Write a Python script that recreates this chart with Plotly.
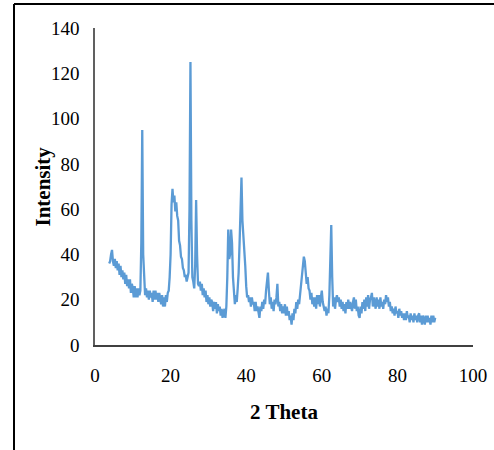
import numpy as np
import plotly.graph_objects as go

# XRD pattern, 2 theta grid starts at 3.75 with 0.25 steps
start_2theta = 3.75
step_2theta = 0.25
intensity = [
    36,                                   # 3.75
    37, 40, 42, 37,                       # 4
    35, 38, 34, 37,                       # 5
    33, 36, 31, 35,                       # 6
    30, 33, 29, 32,                       # 7
    27, 31, 26, 29,                       # 8
    25, 29, 23, 27,                       # 9
    25, 21, 26, 21,                       # 10
    25, 21, 25, 22,                       # 11
    24, 45, 95, 40,                       # 12
    26, 22, 25, 21,                       # 13
    24, 20, 24, 21,                       # 14
    23, 19, 24, 20,                       # 15
    24, 20, 23, 19,                       # 16
    23, 20, 18, 22,                       # 17
    17, 21, 17, 22,                       # 18
    19, 23, 24, 30,                       # 19
    40, 62, 69, 63,                       # 20
    66, 59, 63, 57,                       # 21
    55, 46, 44, 39,                       # 22
    38, 34, 33, 30,                       # 23
    31, 28, 31, 32,                       # 24
    60, 125, 55, 30,                      # 25
    28, 25, 35, 64,                       # 26
    40, 27, 26, 28,                       # 27
    24, 27, 22, 25,                       # 28
    21, 24, 19, 22,                       # 29
    18, 21, 17, 20,                       # 30
    19, 15, 19, 16,                       # 31
    19, 14, 18, 15,                       # 32
    17, 13, 16, 12,                       # 33
    14, 16, 12, 17,                       # 34
    30, 51, 38, 40,                       # 35
    51, 45, 30, 22,                       # 36
    18, 22, 19, 25,                       # 37
    32, 45, 60, 74,                       # 38
    55, 48, 46, 35,                       # 39
    26, 21, 22, 19,                       # 40
    21, 17, 21, 18,                       # 41
    19, 15, 19, 15,                       # 42
    17, 14, 12, 17,                       # 43
    15, 19, 16, 20,                       # 44
    18, 24, 30, 32,                       # 45
    24, 18, 21, 16,                       # 46
    19, 15, 20, 18,                       # 47
    21, 27, 17, 19,                       # 48
    15, 18, 14, 17,                       # 49
    14, 18, 13, 17,                       # 50
    13, 15, 11, 13,                       # 51
    9, 14, 11, 16,                        # 52
    14, 19, 16, 20,                       # 53
    18, 23, 26, 32,                       # 54
    36, 39, 37, 33,                       # 55
    27, 30, 25, 24,                       # 56
    20, 23, 18, 21,                       # 57
    17, 21, 16, 22,                       # 58
    18, 22, 17, 21,                       # 59
    24, 19, 17, 15,                       # 60
    17, 13, 16, 14,                       # 61
    22, 40, 53, 30,                       # 62
    17, 21, 16, 20,                       # 63
    22, 19, 21, 17,                       # 64
    20, 16, 19, 15,                       # 65
    18, 14, 19, 16,                       # 66
    20, 16, 19, 17,                       # 67
    15, 19, 21, 16,                       # 68
    20, 15, 17, 13,                       # 69
    12, 17, 14, 19,                       # 70
    16, 20, 15, 21,                       # 71
    17, 22, 16, 20,                       # 72
    21, 23, 17, 21,                       # 73
    18, 16, 21, 17,                       # 74
    20, 16, 21, 17,                       # 75
    19, 16, 20, 18,                       # 76
    22, 19, 21, 17,                       # 77
    19, 15, 17, 14,                       # 78
    16, 13, 17, 14,                       # 79
    15, 12, 16, 13,                       # 80
    15, 12, 14, 11,                       # 81
    14, 11, 15, 12,                       # 82
    13, 10, 14, 11,                       # 83
    13, 10, 14, 11,                       # 84
    13, 10, 13, 14,                       # 85
    10, 13, 9, 13,                        # 86
    11, 9, 13, 10,                        # 87
    13, 10, 12, 9,                        # 88
    13, 10, 13, 10,                       # 89
    12,                                   # 90
]
two_theta = np.round(start_2theta + step_2theta * np.arange(len(intensity)), 2)

x_ticks = [0, 20, 40, 60, 80, 100]
y_ticks = [0, 20, 40, 60, 80, 100, 120, 140]

serif = "Liberation Serif, Times New Roman, serif"

fig = go.Figure()
fig.add_trace(go.Scatter(
    x=two_theta,
    y=intensity,
    mode="lines",
    line=dict(color="#5B9BD5", width=2.3),
    showlegend=False,
))

fig.update_layout(
    width=494,
    height=450,
    margin=dict(l=95, r=21, t=28, b=105),
    paper_bgcolor="white",
    plot_bgcolor="white",
    font=dict(family=serif, color="black"),
    xaxis=dict(
        range=[0, 100],
        tickvals=x_ticks,
        showgrid=False,
        zeroline=False,
        showline=True,
        linecolor="#404040",
        linewidth=2,
        ticks="",
        automargin=False,
        ticklabelstandoff=12,
        tickfont=dict(size=19, family=serif),
        title=dict(text="<b>2 Theta</b>", font=dict(size=21, family=serif), standoff=20),
    ),
    yaxis=dict(
        range=[0, 140],
        tickvals=y_ticks,
        showgrid=False,
        zeroline=False,
        showline=True,
        linecolor="#606060",
        linewidth=1.5,
        ticks="",
        automargin=False,
        ticklabelstandoff=10,
        tickfont=dict(size=19, family=serif),
    ),
)

# y axis title placed as a rotated annotation, left of the tick labels
fig.add_annotation(text="<b>Intensity</b>", xref="paper", yref="paper",
                   x=(42 - 95) / 378, y=0.5, xanchor="center", yanchor="middle",
                   textangle=-90, showarrow=False,
                   font=dict(size=21, family=serif, color="black"))

# outer frame (top and left edges of the cropped figure box)
fig.add_shape(type="line", xref="paper", yref="paper",
              x0=(14 - 95) / 378, x1=1.06, y0=(345 - 4) / 317, y1=(345 - 4) / 317,
              line=dict(color="black", width=2))
fig.add_shape(type="line", xref="paper", yref="paper",
              x0=(14 - 95) / 378, x1=(14 - 95) / 378, y0=(345 - 4) / 317, y1=-0.34,
              line=dict(color="black", width=2))

# drop the browser's default body margin so the 494x450 figure fills the window
fig.write_html("out.html", config={"displayModeBar": False},
               post_script="document.body.style.margin = '0';")
